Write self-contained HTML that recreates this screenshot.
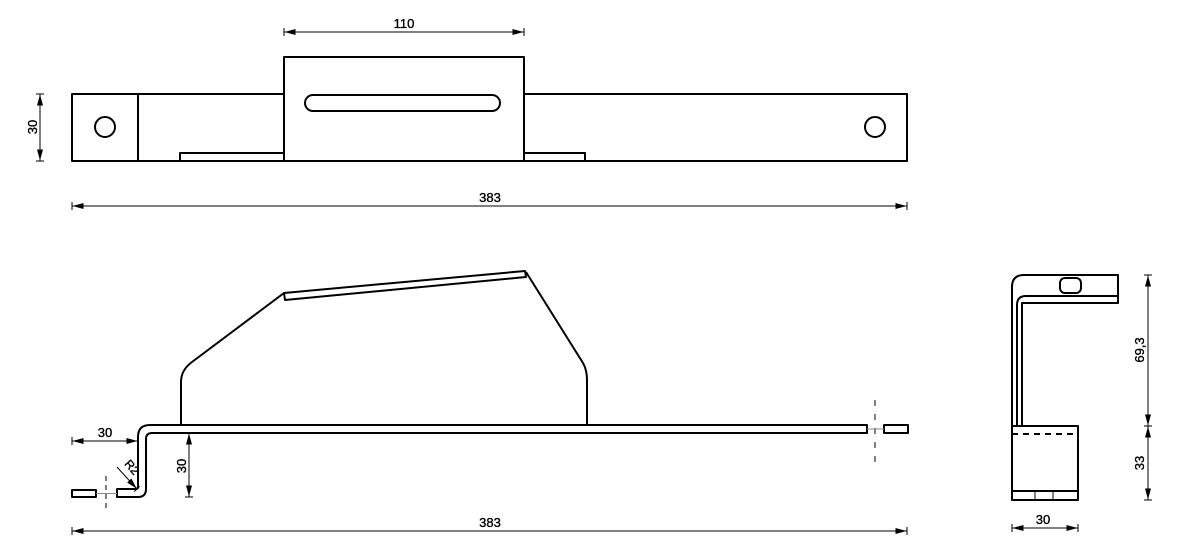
<!DOCTYPE html>
<html><head><meta charset="utf-8"><style>
html,body{margin:0;padding:0;background:#fff;width:1200px;height:560px;overflow:hidden}
svg text{font-family:"Liberation Sans","DejaVu Sans",sans-serif;font-size:13px;fill:#000;stroke:#000;stroke-width:0.35}
</style></head><body>
<svg width="1200" height="560" viewBox="0 0 1200 560" xmlns="http://www.w3.org/2000/svg">
<defs>
<marker id="a" viewBox="0 0 12 8" refX="11.5" refY="4" markerWidth="12" markerHeight="8" orient="auto-start-reverse" markerUnits="userSpaceOnUse">
<path d="M0,1 L11,4 L0,7 Z" fill="#000"/><path d="M11.5,0 V8" stroke="#000" stroke-width="1"/>
</marker>
</defs>
<g fill="none" stroke="#000" stroke-width="2" stroke-linejoin="round">
<rect x="72" y="94" width="835" height="67" fill="#fff"/>
<line x1="138" y1="94" x2="138" y2="161"/>
<rect x="180" y="153" width="405" height="8"/>
<rect x="284" y="57" width="240" height="104" fill="#fff"/>
<rect x="305" y="95" width="195" height="16" rx="8"/>
<circle cx="105" cy="127" r="10"/>
<circle cx="875" cy="127" r="10"/>
<path d="M181,425 V382 Q181,370 192,362 L284,293"/>
<path d="M284,293 L525,271 L526,277 L285,300 Z"/>
<path d="M526,272 L583,363 Q587,370 587,380 V425"/>
<path d="M867,425 H150 Q138,425 138,437 V487 Q138,489 136,489 H117 V497 H138 Q146,497 146,489 V439 Q146,433 152,433 H867 Z"/>
<rect x="72" y="490" width="24" height="7"/>
<rect x="884" y="425" width="24" height="8"/>
<path d="M1012,426 V287 Q1012,275 1024,275 H1118 V303 H1022 V426"/>
<path d="M1017,426 V305 Q1017,296 1026,296 H1118"/>
<rect x="1060" y="278" width="21" height="15" rx="5"/>
<rect x="1012" y="426" width="66" height="74"/>
<line x1="1012" y1="491" x2="1078" y2="491"/>
<line x1="1012" y1="434" x2="1078" y2="434" stroke-dasharray="6,5"/>
</g>
<g stroke="#000" stroke-width="1">
<line x1="1035" y1="491" x2="1035" y2="500"/><line x1="1053" y1="491" x2="1053" y2="500"/>
<line x1="106" y1="476" x2="106" y2="512" stroke-dasharray="5,4"/>
<line x1="96" y1="493.5" x2="117" y2="493.5" stroke="#888"/>
<line x1="875" y1="400" x2="875" y2="462" stroke-dasharray="6,8"/>
<line x1="867" y1="429" x2="884" y2="429" stroke="#888"/>
<line x1="284" y1="32" x2="524" y2="32" marker-start="url(#a)" marker-end="url(#a)"/>
<line x1="72" y1="206" x2="907" y2="206" marker-start="url(#a)" marker-end="url(#a)"/>
<line x1="40" y1="94" x2="40" y2="161" marker-start="url(#a)" marker-end="url(#a)"/>
<line x1="72" y1="441" x2="138" y2="441" marker-start="url(#a)" marker-end="url(#a)"/>
<line x1="189" y1="433" x2="189" y2="497" marker-start="url(#a)" marker-end="url(#a)"/>
<line x1="72" y1="531" x2="907" y2="531" marker-start="url(#a)" marker-end="url(#a)"/>
<line x1="117" y1="467" x2="137" y2="489" marker-end="url(#a)"/>
<line x1="1148" y1="275" x2="1148" y2="426" marker-start="url(#a)" marker-end="url(#a)"/>
<line x1="1148" y1="426" x2="1148" y2="500" marker-start="url(#a)" marker-end="url(#a)"/>
<line x1="1012" y1="528" x2="1078" y2="528" marker-start="url(#a)" marker-end="url(#a)"/>
</g>
<text x="404" y="28" text-anchor="middle">110</text>
<text x="490" y="202" text-anchor="middle">383</text>
<text x="490" y="527" text-anchor="middle">383</text>
<text x="105" y="437" text-anchor="middle">30</text>
<text x="1043" y="524" text-anchor="middle">30</text>
<text transform="translate(37,127) rotate(-90)" text-anchor="middle">30</text>
<text transform="translate(186,466) rotate(-90)" text-anchor="middle">30</text>
<text transform="translate(1144,350) rotate(-90)" text-anchor="middle">69,3</text>
<text transform="translate(1144,463) rotate(-90)" text-anchor="middle">33</text>
<text transform="translate(129,470) rotate(48)" text-anchor="middle" style="font-size:12px">R2</text>
</svg>
</body></html>
